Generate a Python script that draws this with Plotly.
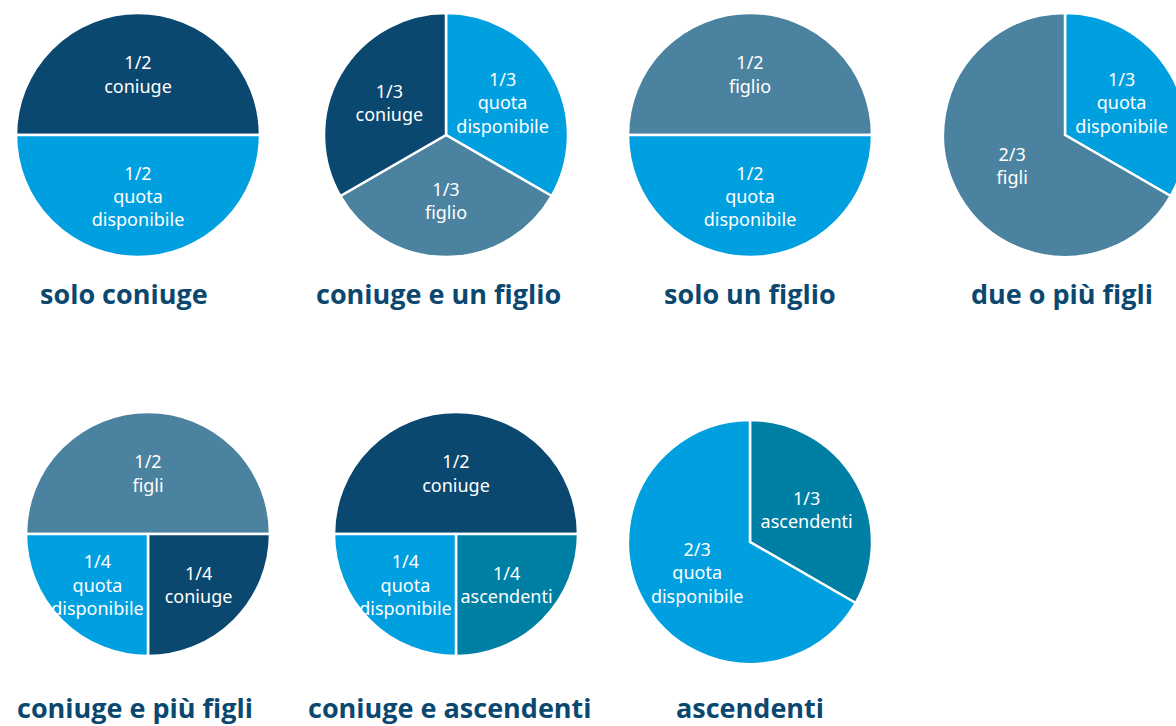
import plotly.graph_objects as go

W, H = 1190, 726
R = 122

titles = ["solo coniuge", "coniuge e un figlio", "solo un figlio", "due o più figli",
          "coniuge e più figli", "coniuge e ascendenti", "ascendenti"]

heirs_1 = ["coniuge", "quota disponibile"]
shares_1 = [1/2, 1/2]
fracs_1 = ["1/2", "1/2"]

heirs_2 = ["quota disponibile", "figlio", "coniuge"]
shares_2 = [1/3, 1/3, 1/3]
fracs_2 = ["1/3", "1/3", "1/3"]

heirs_3 = ["figlio", "quota disponibile"]
shares_3 = [1/2, 1/2]
fracs_3 = ["1/2", "1/2"]

heirs_4 = ["quota disponibile", "figli"]
shares_4 = [1/3, 2/3]
fracs_4 = ["1/3", "2/3"]

heirs_5 = ["figli", "coniuge", "quota disponibile"]
shares_5 = [1/2, 1/4, 1/4]
fracs_5 = ["1/2", "1/4", "1/4"]

heirs_6 = ["coniuge", "ascendenti", "quota disponibile"]
shares_6 = [1/2, 1/4, 1/4]
fracs_6 = ["1/2", "1/4", "1/4"]

heirs_7 = ["ascendenti", "quota disponibile"]
shares_7 = [1/3, 2/3]
fracs_7 = ["1/3", "2/3"]

heir_colors = {
    "coniuge": "#0b4870",
    "quota disponibile": "#009fe0",
    "figlio": "#4b82a0",
    "figli": "#4b82a0",
    "ascendenti": "#007fa5",
}

charts = [
    (heirs_1, shares_1, fracs_1, (138, 135), 124, 293, -90),
    (heirs_2, shares_2, fracs_2, (446, 135), 438, 293, 0),
    (heirs_3, shares_3, fracs_3, (750, 135), 750, 293, -90),
    (heirs_4, shares_4, fracs_4, (1065, 135), 1062, 293, 0),
    (heirs_5, shares_5, fracs_5, (148, 534), 135, 707, -90),
    (heirs_6, shares_6, fracs_6, (456, 534), 450, 707, -90),
    (heirs_7, shares_7, fracs_7, (750, 542), 750, 707, 0),
]

fig = go.Figure()
annotations = []
for (heirs, shares, fracs, (cx, cy), tx, ty, rot), title in zip(charts, titles):
    fig.add_trace(go.Pie(
        labels=heirs,
        values=shares,
        text=[f + "<br>" + h.replace(" ", "<br>") for f, h in zip(fracs, heirs)],
        textinfo="text",
        textposition="inside",
        insidetextorientation="horizontal",
        textfont=dict(family="Noto Sans, Open Sans, sans-serif", size=18, color="white"),
        marker=dict(colors=[heir_colors[h] for h in heirs], line=dict(color="white", width=2.5)),
        sort=False,
        direction="clockwise",
        rotation=rot,
        hoverinfo="skip",
        showlegend=False,
        domain=dict(x=[(cx - R) / W, (cx + R) / W], y=[1 - (cy + R) / H, 1 - (cy - R) / H]),
    ))
    annotations.append(dict(
        text=title, x=tx / W, y=1 - ty / H, xref="paper", yref="paper",
        xanchor="center", yanchor="middle", showarrow=False,
        font=dict(family="Open Sans, sans-serif", size=27, color="#0b4870", weight="bold"),
    ))

fig.update_layout(
    width=W, height=H, autosize=False,
    margin=dict(l=0, r=0, t=0, b=0),
    paper_bgcolor="white", plot_bgcolor="white",
    annotations=annotations,
    uniformtext=dict(minsize=18, mode="show"),
)

fig.write_html("out.html", config={"displayModeBar": False},
               post_script="document.documentElement.style.overflow='hidden';document.body.style.overflow='hidden';document.body.style.margin='0';")
